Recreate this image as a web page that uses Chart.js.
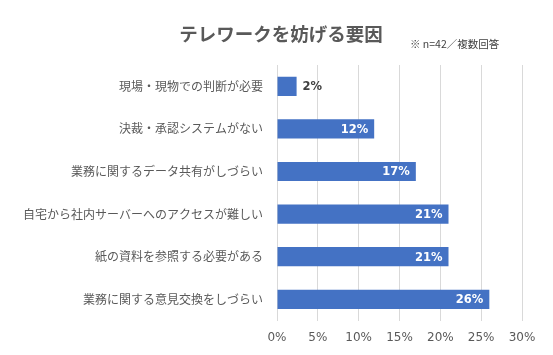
<!DOCTYPE html>
<html><head><meta charset="utf-8">
<script src="https://cdn.jsdelivr.net/npm/chart.js@4/dist/chart.umd.min.js"></script>
<style>html,body{margin:0;padding:0;background:#fff}#wrap{width:553px;height:355px}</style>
</head><body><div id="wrap"><canvas id="c" width="553" height="355"></canvas></div>
<script>
const titleText = "テレワークを妨げる要因";
const noteText = "※ n=42／複数回答";
const categories = ["現場・現物での判断が必要","決裁・承認システムがない","業務に関するデータ共有がしづらい","自宅から社内サーバーへのアクセスが難しい","紙の資料を参照する必要がある","業務に関する意見交換をしづらい"];
const values = [2.4, 11.9, 17.0, 21.0, 21.0, 26.0];
const valueLabels = ["2%","12%","17%","21%","21%","26%"];
const tickMax = 30;
const tickStep = 5;

const jp = '"Noto Sans CJK JP", "Noto Sans", sans-serif';
const txt = '#595959';

const headerPlugin = {
  id:'header',
  afterDraw(chart){
    const ctx = chart.ctx;
    ctx.save();
    ctx.fillStyle = txt;
    ctx.textBaseline = 'middle';
    ctx.textAlign = 'center';
    ctx.font = 'bold 18.5px ' + jp;
    ctx.fillText(titleText, 281, 34);
    ctx.textAlign = 'left';
    ctx.font = '10.5px ' + jp;
    ctx.fillStyle = '#404040';
    ctx.fillText(noteText, 410, 44);
    ctx.restore();
  }
};
const labelPlugin = {
  id:'vlabels',
  afterDatasetsDraw(chart){
    const ctx = chart.ctx;
    const meta = chart.getDatasetMeta(0);
    ctx.save();
    ctx.font = 'bold 11.5px "DejaVu Sans", sans-serif';
    ctx.textBaseline = 'middle';
    meta.data.forEach((bar, i) => {
      const w = bar.x - bar.base;
      if (w < 30) {
        ctx.fillStyle = '#404040';
        ctx.textAlign = 'left';
        ctx.fillText(valueLabels[i], bar.x + 6, bar.y + 1);
      } else {
        ctx.fillStyle = '#ffffff';
        ctx.textAlign = 'right';
        ctx.fillText(valueLabels[i], bar.x - 6, bar.y + 1);
      }
    });
    ctx.restore();
  }
};

new Chart(document.getElementById('c'), {
  type:'bar',
  data:{ labels: categories, datasets:[{ data: values, backgroundColor:'#4472c4', borderWidth:0, barPercentage:0.45, categoryPercentage:1 }]},
  options:{
    indexAxis:'y', responsive:false, animation:false,
    layout:{ padding:{ top:65, right:31, bottom:0, left:0 } },
    plugins:{ legend:{display:false}, tooltip:{enabled:false}, title:{display:false} },
    scales:{
      x:{ min:0, max:tickMax,
        ticks:{ stepSize:tickStep, color:txt, padding:10, font:{ family:'"DejaVu Sans", sans-serif', size:12 }, callback:v=>v+'%' },
        grid:{ color:'#d9d9d9', drawTicks:false, lineWidth:1 },
        border:{ display:false } },
      y:{
        ticks:{ color:txt, padding:6, font:{ family:jp, size:12 } },
        grid:{ display:false },
        border:{ display:false },
        afterFit(s){ s.width = 277; }
      }
    }
  },
  plugins:[headerPlugin, labelPlugin]
});
</script></body></html>
